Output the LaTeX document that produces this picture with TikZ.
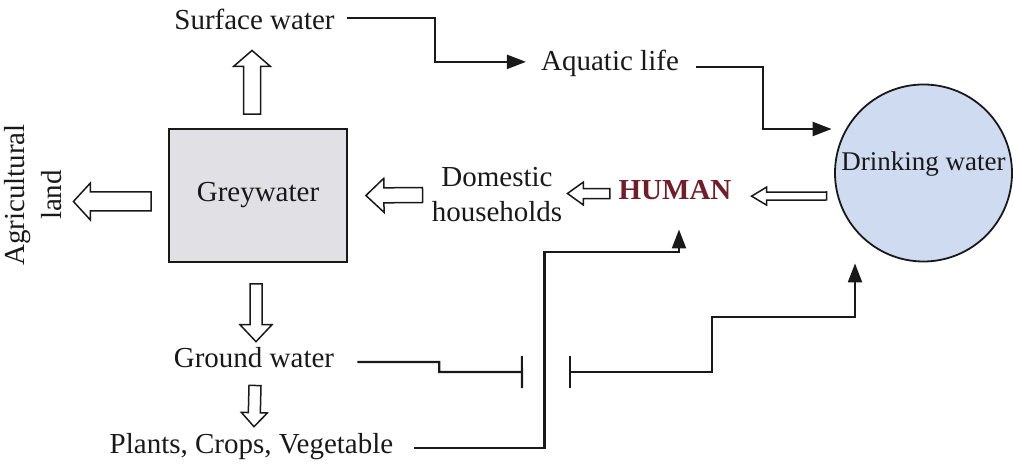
\documentclass[tikz,border=0pt]{standalone}
\usepackage{fontspec}
\setmainfont{Liberation Serif}
\usetikzlibrary{calc,arrows.meta}
\definecolor{greyfill}{RGB}{225,225,229}
\definecolor{bluefill}{RGB}{207,219,240}
\definecolor{humanred}{RGB}{112,30,42}
\definecolor{ink}{RGB}{25,25,25}
\newcommand\blockarrow[5]{%
  \coordinate (bahb) at ($(#2)!#5!(#1)$);
  \draw[hollow] ($(#1)!#3!90:(#2)$) -- ($(bahb)!#3!90:(#2)$) -- ($(bahb)!#4!90:(#2)$) -- (#2) -- ($(bahb)!#4!-90:(#2)$) -- ($(bahb)!#3!-90:(#2)$) -- ($(#1)!#3!-90:(#2)$) -- cycle;}
\begin{document}
\begin{tikzpicture}[x=1pt,y=-1pt,
  txt/.style={font=\fontsize{29}{35}\selectfont, inner sep=0pt, text=ink},
  conn/.style={line width=2.2pt, draw=ink},
  tip/.style={-{Triangle[length=19pt,width=14pt]}},
  hollow/.style={draw=ink, line width=1.5pt, fill=white, line join=miter},
]
\useasboundingbox (0,0) rectangle (1013,465);

% nodes
\node[draw=ink, line width=1.8pt, fill=greyfill, minimum width=178pt, minimum height=133pt, txt] (gw) at (258,195.5) {Greywater};
\node[txt, anchor=base] (sw) at (254.5,30) {Surface water};
\node[txt, anchor=base] (aq) at (610,71) {Aquatic life};
\node[circle, draw=ink, line width=1.8pt, fill=bluefill, minimum size=177pt, inner sep=0pt,
      font=\fontsize{27}{32}\selectfont, text=ink, text height=10pt, text depth=14pt] (dw) at (923.5,173) {Drinking water};
\node[txt, anchor=base, text=humanred, font=\fontsize{29}{35}\selectfont\bfseries] (hu) at (675,200) {HUMAN};
\node[txt, align=center] (dh) at (497,195) {Domestic\\households};
\node[txt, anchor=base] (gr) at (254,367) {Ground water};
\node[txt, anchor=base] (pl) at (251.5,453) {Plants, Crops, Vegetable};
\node[txt, align=center, rotate=90, font=\fontsize{29}{37}\selectfont] (ag) at (33.5,195) {Agricultural\\land};

% hollow block arrows
\coordinate (a1t) at ($(gw.west)+(-17,6)$);
\coordinate (a1h) at ($(a1t -| ag.south)+(11,0)$);
\blockarrow{a1t}{a1h}{9.5pt}{18.5pt}{17pt}

\coordinate (a2t) at ($(gw.north)+(-6,-14)$);
\coordinate (a2h) at ($(sw.south)+(-2.5,20)$);
\blockarrow{a2t}{a2h}{8.5pt}{18.5pt}{16pt}

\coordinate (a3t) at ($(gw.south)+(-2,21)$);
\coordinate (a3h) at ($(gr.north)+(2,-5)$);
\blockarrow{a3t}{a3h}{6pt}{16pt}{17pt}

\coordinate (a4t) at ($(gr.south)+(1,18)$);
\coordinate (a4h) at ($(pl.north)+(2.5,-6)$);
\blockarrow{a4t}{a4h}{6pt}{13pt}{14pt}

\coordinate (a5t) at ($(dh.west)+(-9,0)$);
\coordinate (a5h) at ($(gw.east)+(18,0)$);
\blockarrow{a5t}{a5h}{7.5pt}{17pt}{18pt}

\coordinate (a6t) at ($(hu.west)+(-8.6,3)$);
\coordinate (a6h) at ($(dh.east)+(5,-1.5)$);
\blockarrow{a6t}{a6h}{5pt}{11.5pt}{16pt}

\coordinate (a7t) at ($(dw.west)+(-7.5,23)$);
\coordinate (a7h) at ($(hu.east)+(20,5.6)$);
\blockarrow{a7t}{a7h}{4pt}{9pt}{15pt}

% line connectors
\draw[conn,tip] ($(sw.east)+(12,-2)$) -- ++(88,0) |- ($(aq.west)+(-15,-2)$);
\draw[conn,tip] ($(aq.east)+(17,3)$) -- ++(67,0) |- ($(dw.west)+(-2.5,-44)$);
\draw[conn,tip] ($(pl.east)+(21,1.75)$) -- ++(130,0) -- ++(0,-196) -| ($(hu.south)+(4,29)$);

\coordinate (bar1) at (523,372);
\coordinate (bar2) at (569,372);
\draw[conn,-{Bar[width=32pt]}] ($(gr.east)+(23,5)$) -- ++(82,0) -- ++(0,10) -- (bar1);
\draw[conn,{Bar[width=32pt]}-{Triangle[length=19pt,width=14pt]}] (bar2) -- ++(143,0) -- ++(0,-55) -| ($(dw.south)+(-68.5,1)$);
\end{tikzpicture}
\end{document}
